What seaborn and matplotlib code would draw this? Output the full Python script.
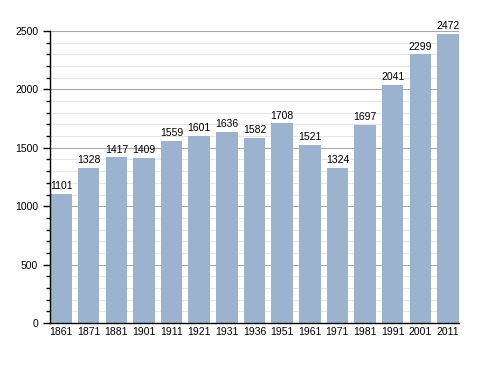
import numpy as np
import pandas as pd
import seaborn as sns
import matplotlib.pyplot as plt
from matplotlib.ticker import MultipleLocator

years = ['1861', '1871', '1881', '1901', '1911', '1921', '1931', '1936',
         '1951', '1961', '1971', '1981', '1991', '2001', '2011']
population = [1101, 1328, 1417, 1409, 1559, 1601, 1636, 1582,
              1708, 1521, 1324, 1697, 2041, 2299, 2472]

df = pd.DataFrame({'year': years, 'pop': population})

sns.set_style('white')
plt.rcParams['font.family'] = ['Liberation Sans', 'DejaVu Sans']

fig = plt.figure(figsize=(4.88, 3.73), dpi=100)
ax = fig.add_axes([0.1025, 0.134, 0.838, 0.783])

# grid lines: minor every 100, major every 500
ax.yaxis.set_major_locator(MultipleLocator(500))
ax.yaxis.set_minor_locator(MultipleLocator(100))
ax.grid(which='minor', axis='y', color='#e6e6e6', linewidth=0.8)
ax.grid(which='major', axis='y', color='#a8a8a8', linewidth=0.8)
ax.set_axisbelow(True)

sns.barplot(data=df, x='year', y='pop', color='#9bb3cf', saturation=1,
            width=0.78, linewidth=0, ax=ax)

for i, v in enumerate(population):
    ax.text(i, v + 25, str(v), ha='center', va='bottom', fontsize=7.5, color='black')

ax.set_ylim(0, 2500)
ax.set_xlim(-0.4, 14.4)
ax.set_xlabel('')
ax.set_ylabel('')
for s in ['top', 'right']:
    ax.spines[s].set_visible(False)
ax.spines['left'].set_color('black')
ax.spines['bottom'].set_color('black')
ax.spines['left'].set_linewidth(1)
ax.spines['bottom'].set_linewidth(1)
ax.tick_params(axis='x', length=0, labelsize=7.5, pad=3, labelcolor='black')
ax.tick_params(axis='y', which='major', length=5, width=1, labelsize=7.5, left=True,
               color='black', labelcolor='black')
ax.tick_params(axis='y', which='minor', length=3, width=1, left=True, color='black')

fig.savefig('out.png', dpi=100)
